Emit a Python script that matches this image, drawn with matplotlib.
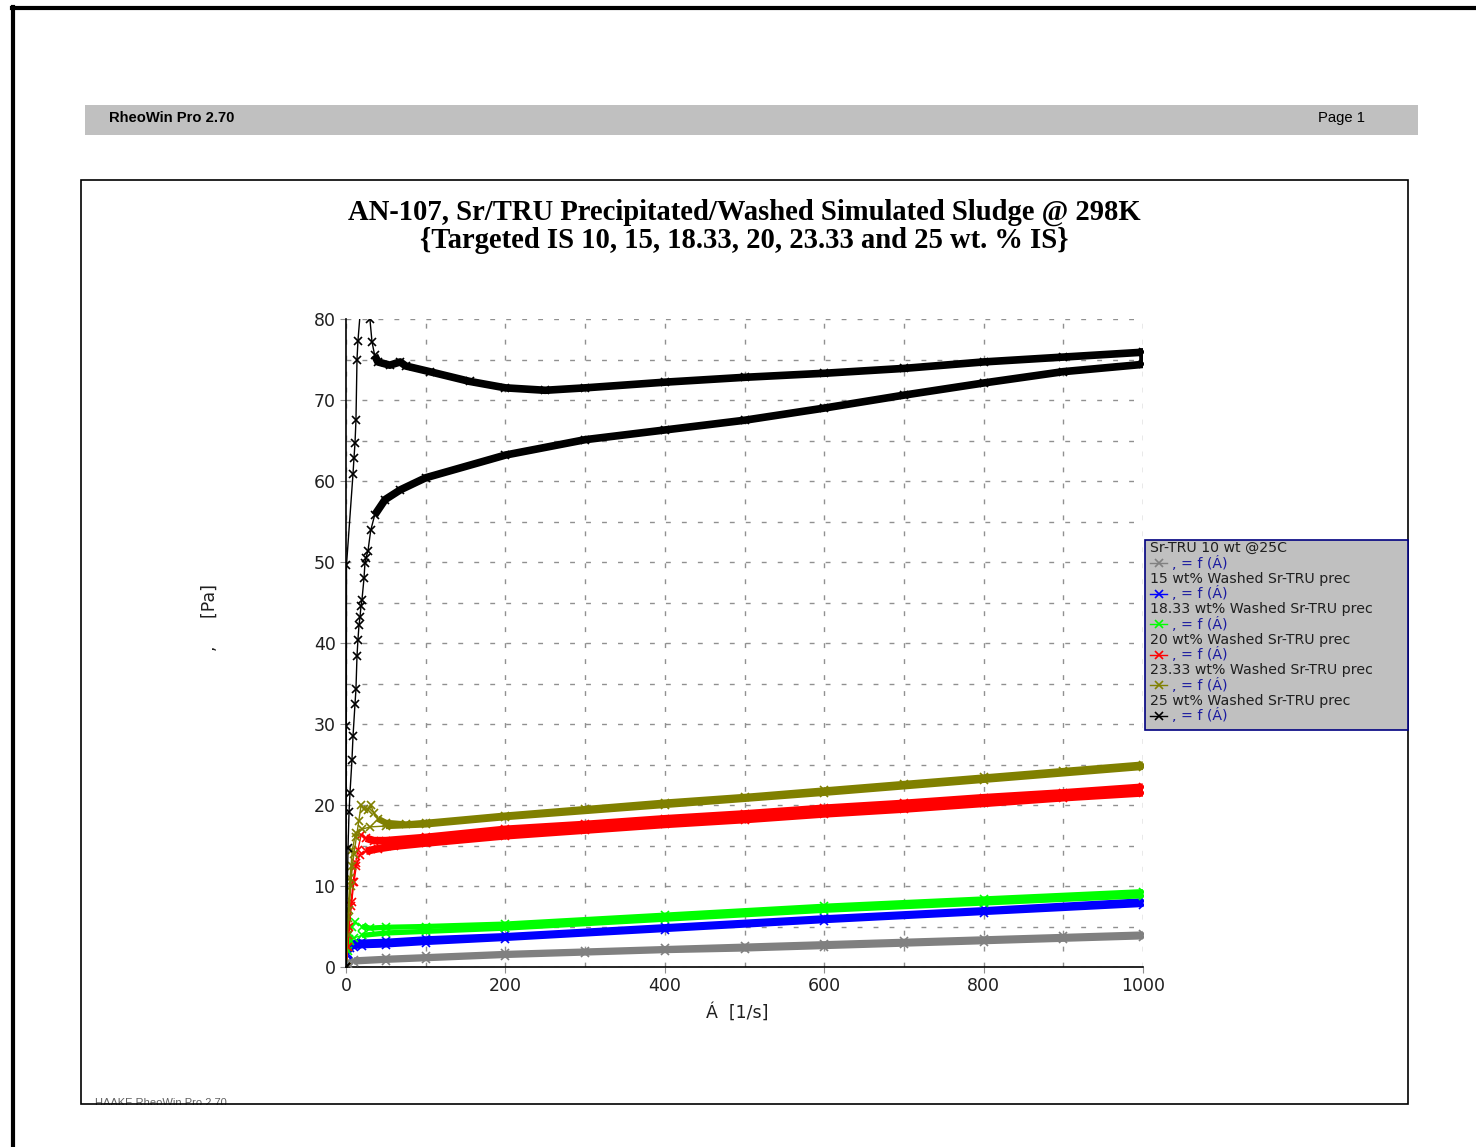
import numpy as np
import matplotlib.pyplot as plt
from matplotlib.patches import Rectangle
from matplotlib.lines import Line2D

W, H = 1476, 1147

# shear rate [1/s] / shear stress [Pa], up ramp then down ramp
gray_up_x = [0, 2, 10, 50, 100, 200, 300, 400, 500, 600, 700, 800, 900, 1000]
gray_up_y = [0, 0.7, 0.9, 1.1, 1.3, 1.7, 2.0, 2.3, 2.6, 2.9, 3.2, 3.5, 3.8, 4.1]
gray_dn_x = [1000, 900, 800, 700, 600, 500, 400, 300, 200, 100, 50, 10, 2, 0]
gray_dn_y = [3.7, 3.4, 3.1, 2.8, 2.5, 2.2, 2.0, 1.7, 1.4, 1.0, 0.8, 0.6, 0.4, 0]

blue_up_x = [0, 1, 3, 6, 10, 20, 50, 100, 200, 400, 600, 800, 1000]
blue_up_y = [0, 1.5, 2.4, 2.8, 3.0, 3.1, 3.2, 3.5, 3.9, 5.0, 6.1, 7.1, 8.2]
blue_dn_x = [1000, 800, 600, 400, 200, 100, 50, 20, 10, 5, 2, 0]
blue_dn_y = [7.7, 6.7, 5.7, 4.6, 3.5, 3.0, 2.7, 2.6, 2.5, 2.3, 1.6, 0]

green_up_x = [0, 2, 4, 8, 11, 20, 30, 50, 100, 200, 400, 600, 800, 1000]
green_up_y = [0, 2.5, 3.5, 5.0, 5.6, 5.0, 4.8, 4.9, 5.0, 5.3, 6.4, 7.5, 8.4, 9.3]
green_dn_x = [1000, 800, 600, 400, 200, 100, 50, 20, 10, 5, 2, 0]
green_dn_y = [8.8, 7.9, 7.0, 5.9, 4.8, 4.4, 4.2, 3.9, 3.6, 3.2, 2.0, 0]

red_up_x = [0, 3, 6, 9, 12, 15, 19, 25, 35, 50, 100, 200, 300, 400, 500,
            600, 700, 800, 900, 1000]
red_up_y = [0, 4, 7.5, 10.5, 12.8, 14.5, 16.3, 15.9, 15.6, 15.6, 16.0, 17.0,
            17.6, 18.3, 18.9, 19.6, 20.2, 20.9, 21.5, 22.2]
red_dn_x = [1000, 900, 800, 700, 600, 500, 400, 300, 200, 100, 60, 40, 25,
            17, 13, 10, 7, 4, 2, 0]
red_dn_y = [21.5, 20.9, 20.2, 19.5, 18.9, 18.2, 17.6, 16.9, 16.2, 15.3, 14.9,
            14.6, 14.3, 13.8, 12.5, 10.5, 8.0, 5.0, 2.5, 0]

olive_up_x = [0, 2, 4, 6, 8, 10, 13, 16, 19, 23, 27, 31, 35, 40, 50, 75, 100,
              200, 300, 400, 500, 600, 700, 800, 900, 1000]
olive_up_y = [0, 4, 7, 10, 12.5, 14, 16, 18, 20.0, 19.5, 19.4, 20.0, 19.0,
              18.3, 17.8, 17.6, 17.8, 18.7, 19.5, 20.3, 21.0, 21.8, 22.6,
              23.4, 24.2, 25.0]
olive_dn_x = [1000, 800, 600, 400, 200, 100, 50, 30, 20, 12, 8, 5, 2, 0]
olive_dn_y = [24.7, 23.1, 21.5, 20.0, 18.5, 17.6, 17.4, 17.3, 17.0, 16.5,
              14.5, 11.0, 6.0, 0]

black_up_x = [0, 0.4, 0.6, 8.8, 10, 11.3, 12.5, 13.8, 15, 23.4, 30, 32.6, 36,
              40, 55, 68, 75, 105, 155, 200, 250, 300, 400, 500, 600, 700,
              800, 900, 1000]
black_up_y = [0, 29.8, 49.6, 60.9, 62.8, 64.7, 67.5, 75.0, 77.3, 87.7, 80.0,
              77.2, 75.5, 74.7, 74.3, 74.7, 74.2, 73.5, 72.3, 71.5, 71.2,
              71.5, 72.2, 72.8, 73.3, 73.9, 74.7, 75.3, 75.9]
black_dn_x = [1000, 900, 800, 700, 600, 500, 400, 300, 200, 100, 68, 49, 36,
              31, 27.6, 25, 23.8, 22.6, 20, 18.8, 17.6, 16.3, 15, 13.8, 12.5,
              11.3, 8.8, 7.5, 5, 3.8, 2.5, 0]
black_dn_y = [74.4, 73.5, 72.1, 70.6, 69.0, 67.5, 66.3, 65.1, 63.2, 60.4,
              58.9, 57.7, 55.8, 53.9, 51.4, 50.5, 49.9, 48.0, 45.3, 44.6,
              43.2, 42.2, 40.4, 38.4, 34.3, 32.5, 28.5, 25.6, 21.5, 19.1,
              14.7, 0]

series = [
    ('Sr-TRU 10 wt @25C', '#808080', gray_up_x, gray_up_y, gray_dn_x, gray_dn_y, 3.5, 5),
    ('15 wt% Washed Sr-TRU prec', '#0000ff', blue_up_x, blue_up_y, blue_dn_x, blue_dn_y, 3.5, 5),
    ('18.33 wt% Washed Sr-TRU prec', '#00ff00', green_up_x, green_up_y, green_dn_x, green_dn_y, 3.8, 15),
    ('20 wt% Washed Sr-TRU prec', '#ff0000', red_up_x, red_up_y, red_dn_x, red_dn_y, 5.5, 20),
    ('23.33 wt% Washed Sr-TRU prec', '#808000', olive_up_x, olive_up_y, olive_dn_x, olive_dn_y, 4.5, 40),
    ('25 wt% Washed Sr-TRU prec', '#000000', black_up_x, black_up_y, black_dn_x, black_dn_y, 5.5, 36),
]


def px(x, y):
    return x / W, 1 - y / H


fig = plt.figure(figsize=(W / 100, H / 100), dpi=100)
fig.patch.set_facecolor('white')

# page border
fig.add_artist(Line2D([13 / W, 13 / W], [0, 1 - 7 / H], color='black', lw=3))
fig.add_artist(Line2D([12 / W, 1], [1 - 8 / H, 1 - 8 / H], color='black', lw=3))

# header bar
x0, y0 = px(85, 135)
fig.add_artist(Rectangle((x0, y0), (1418 - 85) / W, 30 / H, transform=fig.transFigure,
                         facecolor='#c0c0c0', edgecolor='none'))
fig.text(*px(109, 118), 'RheoWin Pro 2.70', family='Liberation Sans', weight='bold',
         fontsize=10.6, va='center', ha='left')
fig.text(*px(1318, 118), 'Page 1', family='Liberation Sans', fontsize=10.6,
         va='center', ha='left')

# footer text cut by the frame
fig.text(*px(95, 1098), 'HAAKE RheoWin Pro 2.70', family='Liberation Sans', fontsize=8,
         color='#606060', va='top', ha='left', zorder=1)
fx0, fy0 = px(60, 1130)
fig.add_artist(Rectangle((fx0, fy0), 400 / W, 25 / H, transform=fig.transFigure,
                         facecolor='white', edgecolor='none', zorder=2))

# chart frame
x0, y0 = px(81, 1104)
fig.add_artist(Rectangle((x0, y0), (1408 - 81) / W, (1104 - 180) / H,
                         transform=fig.transFigure, fill=False, edgecolor='black',
                         lw=1.2, zorder=3))

fig.text(*px(744, 212), 'AN-107, Sr/TRU Precipitated/Washed Simulated Sludge @ 298K',
         family='Liberation Serif', weight='bold', fontsize=20.6, ha='center', va='center')
fig.text(*px(744, 241), '{Targeted IS 10, 15, 18.33, 20, 23.33 and 25 wt. % IS}',
         family='Liberation Serif', weight='bold', fontsize=20.6, ha='center', va='center')

ax = fig.add_axes([346 / W, 1 - 967 / H, (1143 - 346) / W, (967 - 319) / H])
ax.set_xlim(0, 1000)
ax.set_ylim(0, 80)
ax.set_xticks(np.arange(0, 1001, 200))
ax.set_xticks(np.arange(0, 1001, 100), minor=True)
ax.set_yticks(np.arange(0, 81, 10))
ax.set_yticks(np.arange(0, 81, 5), minor=True)
ax.grid(which='both', color='#909090', lw=1, ls=(0, (3.5, 8)))
for s in ['top', 'right']:
    ax.spines[s].set_visible(False)
for s in ['left', 'bottom']:
    ax.spines[s].set_linewidth(1.2)
ax.tick_params(which='both', length=4, color='#909090', labelsize=12.5)
ax.tick_params(which='minor', length=0)
for lab in ax.get_xticklabels() + ax.get_yticklabels():
    lab.set_color('#202020')

for name, col, ux, uy, dx, dy, lw, cut in series:
    xs = np.array(ux + dx, dtype=float)
    ys = np.array(uy + dy, dtype=float)
    ax.plot(xs, ys, color=col, lw=1, marker='x', ms=6, mew=1.2, zorder=3)
    for bx, by in ((ux, uy), (dx, dy)):
        bx = np.array(bx, dtype=float)
        by = np.array(by, dtype=float)
        m = bx >= cut
        ax.plot(bx[m], by[m], color=col, lw=lw, solid_capstyle='butt', zorder=3)
    if col == '#000000':
        # closing edge of the loop at the top shear rate
        ax.plot([ux[-1], dx[0]], [uy[-1], dy[0]], color=col, lw=lw, zorder=3)

fig.text(*px(737, 1012), 'Á  [1/s]', fontsize=12.5, ha='center', va='center',
         color='#202020')
fig.text(*px(210, 618), ',     [Pa]', fontsize=12.5, ha='center', va='center',
         rotation=90, color='#202020')

# legend box
lx0, ly0 = px(1145, 730)
fig.add_artist(Rectangle((lx0, ly0), (1408 - 1145) / W, (730 - 540) / H,
                         transform=fig.transFigure, facecolor='#c0c0c0',
                         edgecolor='#000080', lw=1.2, zorder=4))
for i, (name, col, *_rest) in enumerate(series):
    yn = 548 + i * 30.6
    ym = yn + 15
    fig.text(*px(1150, yn), name, fontsize=10.2, ha='left', va='center',
             color='#202020', zorder=5)
    xa, ya = px(1150, ym)
    xb, _ = px(1167, ym)
    fig.add_artist(Line2D([xa, xb], [ya, ya], color=col, lw=1, zorder=5))
    fig.add_artist(Line2D([(xa + xb) / 2], [ya], color=col, marker='x', ms=6,
                          mew=1.2, zorder=5))
    fig.text(*px(1172, ym), ', = f (Á)', fontsize=10.2, ha='left', va='center',
             color='#1a1aa0', zorder=5)

fig.savefig('out.png', dpi=100)
